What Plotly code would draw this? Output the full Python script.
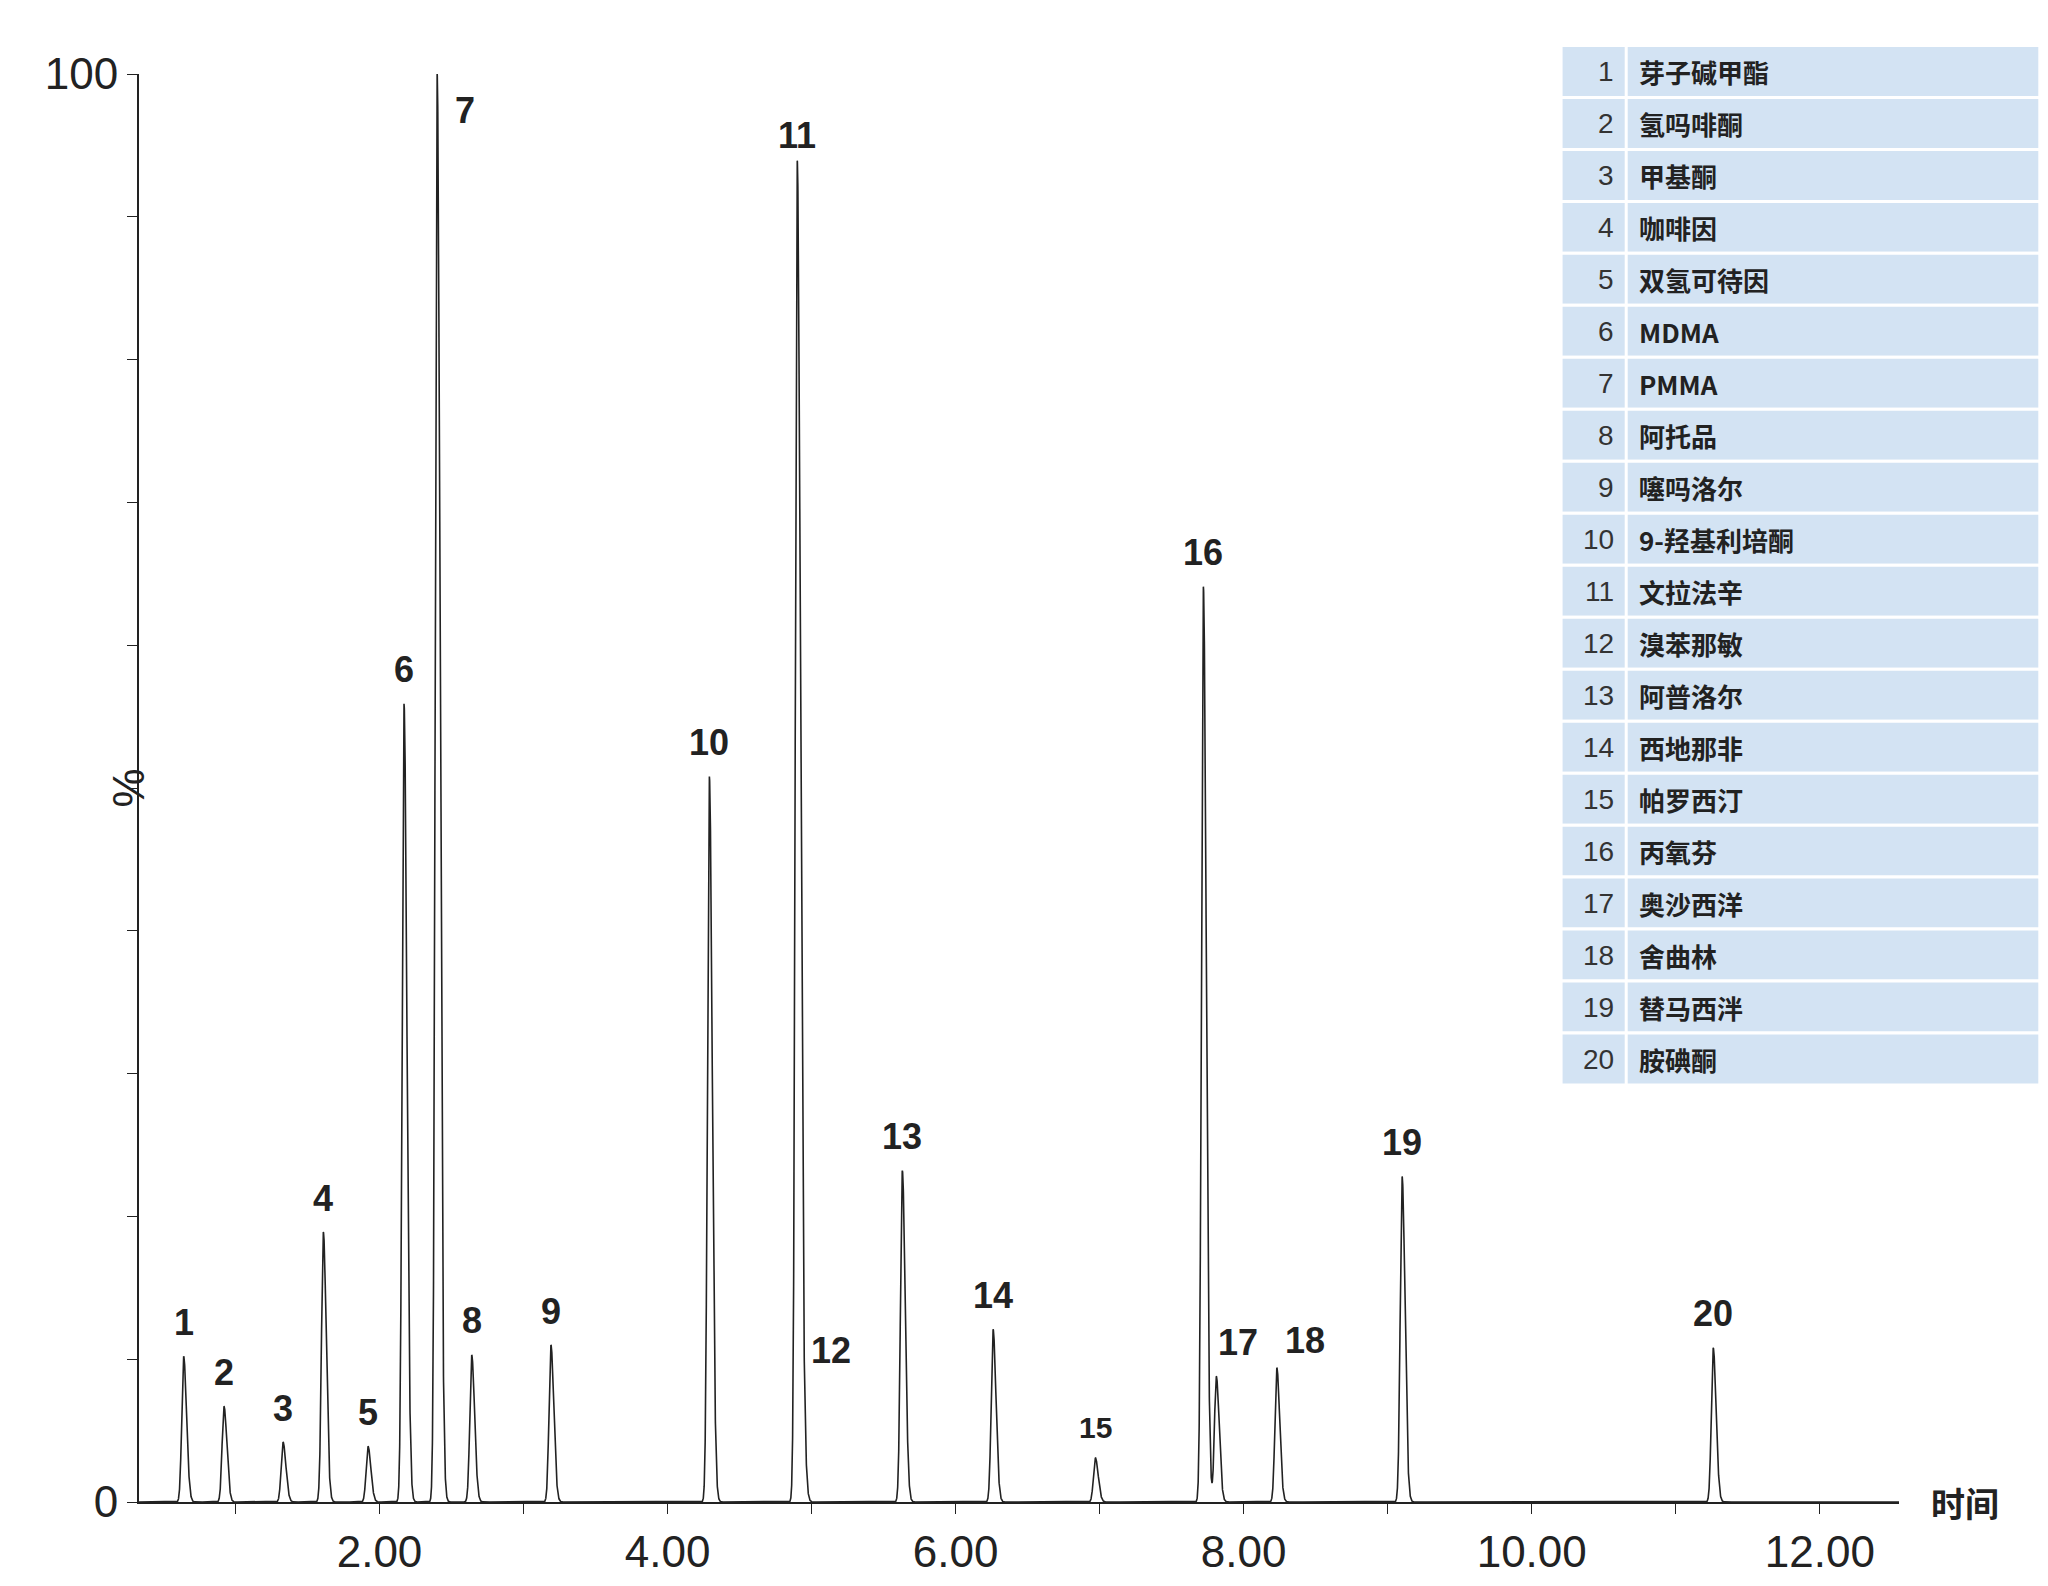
import numpy as np
import plotly.graph_objects as go

# peak retention times (min) and heights (%)
peak_no = list(range(1, 21))
rt = [0.64, 0.92, 1.33, 1.61, 1.92, 2.17, 2.40, 2.64, 3.19, 4.29,
      4.90, 4.93, 5.63, 6.26, 6.97, 7.72, 7.81, 8.23, 9.10, 11.26]
height = [10.2, 6.7, 4.2, 18.9, 3.9, 55.9, 100, 10.3, 11.0, 50.8,
          93.3, 8.5, 23.2, 12.1, 3.1, 64.1, 8.8, 9.4, 22.8, 10.8]
names = ["芽子碱甲酯", "氢吗啡酮", "甲基酮", "咖啡因", "双氢可待因", "MDMA", "PMMA", "阿托品",
         "噻吗洛尔", "9-羟基利培酮", "文拉法辛", "溴苯那敏", "阿普洛尔", "西地那非", "帕罗西汀",
         "丙氧芬", "奥沙西洋", "舍曲林", "替马西泮", "胺碘酮"]

# render the chromatogram trace from the peak table
t = np.linspace(0.33, 12.55, 30000)
sig = np.zeros_like(t)
for r, h in zip(rt, height):
    s = np.where(t < r, 0.013, 0.02)
    sig += h * np.exp(-0.5 * ((t - r) / s) ** 2)

fig = go.Figure()
fig.add_trace(go.Scatter(x=t, y=sig, mode="lines", line=dict(color="#222", width=1.6),
                         showlegend=False, hoverinfo="skip"))

side_labels = {7: (0.11, -1.0, "top"), 12: (0.05, 0.5, "bottom"),
               17: (0.0, 0.8, "bottom"), 18: (0.04, 0.3, "bottom")}
for n, r, h in zip(peak_no, rt, height):
    if n in side_labels:
        dx, dy, ya = side_labels[n]
        fig.add_annotation(x=r + dx, y=h + dy, text=f"<b>{n}</b>", showarrow=False, yanchor=ya,
                           xanchor="left", font=dict(size=36, color="#222"))
    else:
        fs = 30 if n == 15 else 36
        fig.add_annotation(x=r, y=h + 0.8, text=f"<b>{n}</b>", showarrow=False, yanchor="bottom",
                           font=dict(size=fs, color="#222"))

fig.add_annotation(x=12.55, y=0, text="<b>时间</b>", showarrow=False, xanchor="left", xshift=30,
                   yanchor="middle", font=dict(size=34, color="#222", family="Noto Sans CJK SC"))
fig.add_annotation(xref="paper", x=0, y=50, text="%", showarrow=False, textangle=-90,
                   xshift=-38, yanchor="middle", font=dict(size=44, color="#222"))

# compound table
x0, xm, x1 = 0.808, 0.845, 1.080
ytop, ybot = 1.020, 0.292
rh = (ytop - ybot) / len(names)
for i, (n, nm) in enumerate(zip(peak_no, names)):
    yt = ytop - i * rh
    yb = yt - rh
    fig.add_shape(type="rect", xref="paper", yref="paper", x0=x0, x1=x1, y0=yb, y1=yt,
                  fillcolor="#d3e3f3", line=dict(color="white", width=3), layer="below")
    fig.add_shape(type="line", xref="paper", yref="paper", x0=xm, x1=xm, y0=yb, y1=yt,
                  line=dict(color="white", width=3))
    yc = (yt + yb) / 2
    fig.add_annotation(xref="paper", yref="paper", x=xm - 0.006, y=yc, text=str(n), showarrow=False,
                       xanchor="right", yanchor="middle", font=dict(size=28, color="#333"))
    fig.add_annotation(xref="paper", yref="paper", x=xm + 0.006, y=yc, text=f"<b>{nm}</b>",
                       showarrow=False, xanchor="left", yanchor="middle",
                       font=dict(size=26, color="#222", family="Noto Sans CJK SC"))

fig.update_xaxes(range=[0.33, 12.55], tickvals=list(range(1, 13)),
                 ticktext=["" if v % 2 else f"{v:.2f}" for v in range(1, 13)],
                 ticks="outside", ticklen=10, tickcolor="#222", showline=True, linecolor="#222",
                 linewidth=2, showgrid=False, zeroline=False, tickfont=dict(size=44, color="#222"))
fig.update_yaxes(range=[0, 100], tickvals=list(range(0, 101, 10)),
                 ticktext=["0"] + [""] * 9 + ["100"],
                 ticks="outside", ticklen=10, tickcolor="#222", showline=True, linecolor="#222",
                 linewidth=2, showgrid=False, zeroline=False, tickfont=dict(size=44, color="#222"))
fig.update_layout(width=2048, height=1586, plot_bgcolor="white", paper_bgcolor="white",
                  margin=dict(l=131, r=157, t=66, b=92),
                  font=dict(family="Liberation Sans, Arial"))
fig.write_html("out.html")
